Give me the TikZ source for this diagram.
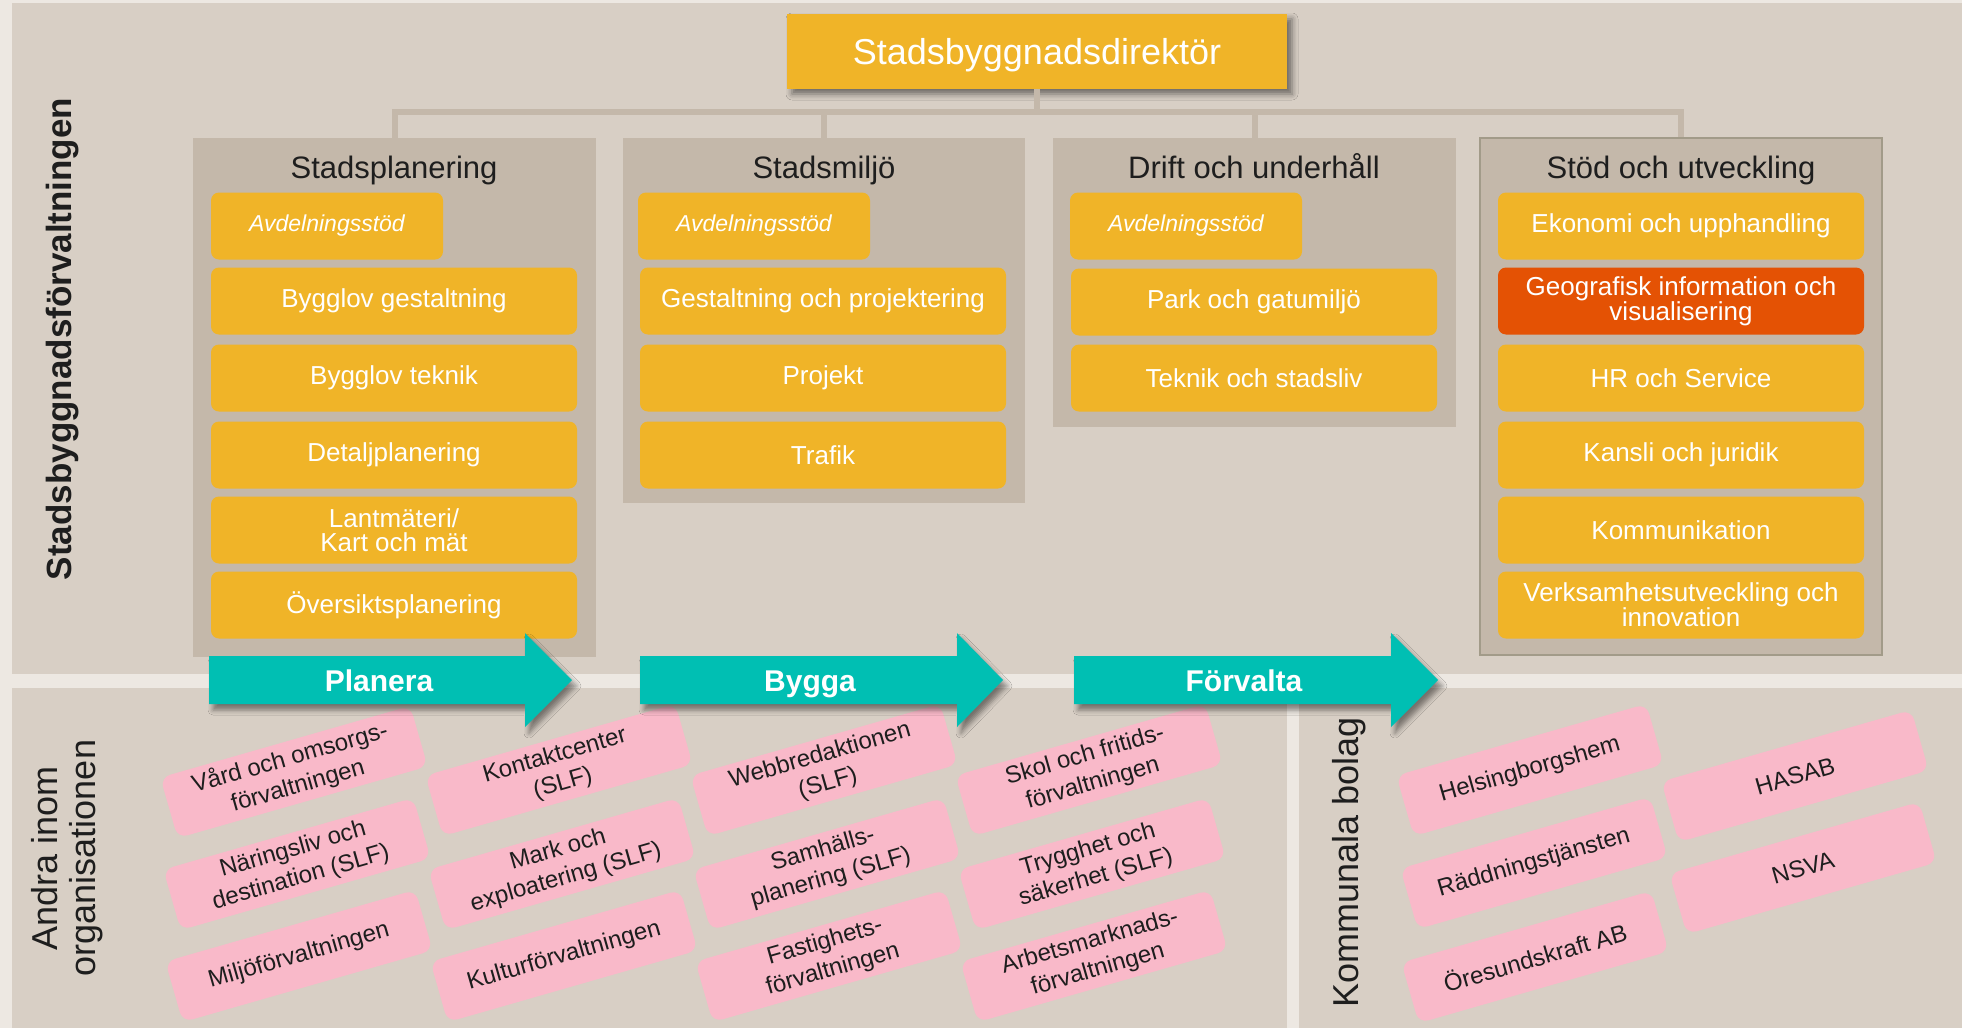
\documentclass[tikz,border=0pt]{standalone}
\usepackage{fontspec}
\setmainfont{Liberation Sans}
\usetikzlibrary{shadows.blur}
\definecolor{outerC}{HTML}{EDE8E2}
\definecolor{panelC}{HTML}{D8CFC5}
\definecolor{colC}{HTML}{C4B8AA}
\definecolor{borderC}{HTML}{A29B89}
\definecolor{orangeC}{HTML}{F0B428}
\definecolor{redC}{HTML}{E45204}
\definecolor{tealC}{HTML}{00BFB3}
\definecolor{pinkC}{HTML}{F9B9C9}
\definecolor{darkC}{HTML}{1E1E1E}
\begin{document}
\begin{tikzpicture}[x=1pt,y=-1pt,
  colbox/.style={fill=colC, inner sep=0pt},
  obox/.style={fill=orangeC, rounded corners=8pt, inner sep=0pt, minimum height=67pt, text=white, align=center, font=\fontsize{26}{24}\selectfont},
  obig/.style={obox, minimum width=366pt},
  oavd/.style={obox, minimum width=232pt, font=\fontsize{23}{24}\selectfont\itshape},
  coltitle/.style={anchor=base, text=darkC, font=\fontsize{31}{34}\selectfont},
  pbox/.style={fill=pinkC, rounded corners=10pt, minimum width=260pt, minimum height=63pt, rotate=16, inner sep=0pt, align=center, text=darkC, font=\fontsize{24}{29}\selectfont},
  phase/.style={fill=tealC, blur shadow={shadow xshift=4pt, shadow yshift=-6pt, shadow blur radius=5pt, shadow opacity=45}},
  phasetext/.style={anchor=base, text=white, font=\fontsize{30}{30}\selectfont\bfseries},
  conn/.style={draw=colC, line width=6pt},
  sidelabel/.style={rotate=90, text=darkC, align=center, font=\fontsize{36}{38}\selectfont}
]
\useasboundingbox (0,0) rectangle (1962,1028);
% backgrounds
\fill[outerC] (0,0) rectangle (1962,1028);
\fill[panelC] (12,3) rectangle (1962,674);
\fill[panelC] (12,688) rectangle (1287,1028);
\fill[panelC] (1299,688) rectangle (1962,1028);

% column boxes
\node[colbox, minimum width=403pt, minimum height=519pt] (c1) at (394.5,397.5) {};
\node[colbox, minimum width=402pt, minimum height=365pt] (c2) at (824,320.5) {};
\node[colbox, minimum width=403pt, minimum height=289pt] (c3) at (1254.5,282.5) {};
\node[colbox, draw=borderC, line width=2.5pt, minimum width=402pt, minimum height=517pt] (c4) at (1681,396.5) {};

% director
\node[fill=orangeC, minimum width=500pt, minimum height=75pt, inner sep=0pt, text=white, text depth=0pt, font=\fontsize{36}{36}\selectfont, blur shadow={shadow xshift=5pt, shadow yshift=-5pt, shadow blur radius=6pt, shadow opacity=50}] (dir) at (1037,51.5) {Stadsbyggnadsdirektör};

% connectors
\coordinate (bus) at (1036,112);
\draw[conn] (dir.south) -- (dir.south |- bus);
\draw[conn] (c1.north) |- (bus);
\draw[conn] (c2.north) |- (bus);
\draw[conn] (c3.north) |- (bus);
\draw[conn] (c4.north) |- (bus);

% column titles
\node[coltitle] (t1) at (394,178) {Stadsplanering};
\node[coltitle] (t2) at (824,178) {Stadsmiljö};
\node[coltitle] (t3) at (1254,178) {Drift och underhåll};
\node[coltitle] (t4) at (1681,178) {Stöd och utveckling};

% column 1
\node[oavd] (avd1) at (327,226) {Avdelningsstöd};
\node[obig] (sp1) at (394,301) {Bygglov gestaltning};
\node[obig] (sp2) at (394,378) {Bygglov teknik};
\node[obig] (sp3) at (394,455) {Detaljplanering};
\node[obig] (sp4) at (394,530) {Lantmäteri/\\Kart och mät};
\node[obig] (sp5) at (394,605) {Översiktsplanering};
% column 2
\node[oavd] (avd2) at (754,226) {Avdelningsstöd};
\node[obig] (sm1) at (823,301) {Gestaltning och projektering};
\node[obig] (sm2) at (823,378) {Projekt};
\node[obig] (sm3) at (823,455) {Trafik};
% column 3
\node[oavd] (avd3) at (1186,226) {Avdelningsstöd};
\node[obig] (du1) at (1254,302) {Park och gatumiljö};
\node[obig] (du2) at (1254,378) {Teknik och stadsliv};
% column 4
\node[obig] (su1) at (1681,226) {Ekonomi och upphandling};
\node[obig, fill=redC] (su2) at (1681,301) {Geografisk information och\\visualisering};
\node[obig] (su3) at (1681,378) {HR och Service};
\node[obig] (su4) at (1681,455) {Kansli och juridik};
\node[obig] (su5) at (1681,530) {Kommunikation};
\node[obig] (su6) at (1681,605) {Verksamhetsutveckling och\\innovation};

% pink boxes
\node[pbox] (pA1) at (294,772) {Vård och omsorgs-\\förvaltningen};
\node[pbox] (pA2) at (297,864) {Näringsliv och\\destination (SLF)};
\node[pbox] (pA3) at (299,956) {Miljöförvaltningen};
\node[pbox] (pB1) at (559,770) {Kontaktcenter\\(SLF)};
\node[pbox] (pB2) at (562,864) {Mark och\\exploatering (SLF)};
\node[pbox] (pB3) at (564,956) {Kulturförvaltningen};
\node[pbox] (pC1) at (824,770) {Webbredaktionen\\(SLF)};
\node[pbox] (pC2) at (827,864) {Samhälls-\\planering (SLF)};
\node[pbox] (pC3) at (829,956) {Fastighets-\\förvaltningen};
\node[pbox] (pD1) at (1089,770) {Skol och fritids-\\förvaltningen};
\node[pbox] (pD2) at (1092,864) {Trygghet och\\säkerhet (SLF)};
\node[pbox] (pD3) at (1094,956) {Arbetsmarknads-\\förvaltningen};
\node[pbox] (pE1) at (1530,770) {Helsingborgshem};
\node[pbox] (pE2) at (1534,863) {Räddningstjänsten};
\node[pbox] (pE3) at (1535,957) {Öresundskraft AB};
\node[pbox] (pF1) at (1795,776) {HASAB};
\node[pbox] (pF2) at (1803,868) {NSVA};

% phase arrows
\path[phase] (209,656) -- (525,656) -- (525,633) -- (572,680) -- (525,727) -- (525,704) -- (209,704) -- cycle;
\path[phase] (640,656) -- (957,656) -- (957,633) -- (1003,680) -- (957,727) -- (957,704) -- (640,704) -- cycle;
\path[phase] (1074,656) -- (1391,656) -- (1391,633) -- (1438,680) -- (1391,727) -- (1391,704) -- (1074,704) -- cycle;
\node[phasetext] (planera) at (379,691) {Planera};
\node[phasetext] (bygga) at (810,691) {Bygga};
\node[phasetext] (forvalta) at (1244,691) {Förvalta};

% side labels
\node[sidelabel, font=\fontsize{35}{38}\selectfont\bfseries] (sbf) at (63,339) {Stadsbyggnadsförvaltningen};
\node[sidelabel] (andra) at (67,858) {Andra inom\\organisationen};
\node[sidelabel] (kb) at (1349,862) {Kommunala bolag};
\end{tikzpicture}
\end{document}
